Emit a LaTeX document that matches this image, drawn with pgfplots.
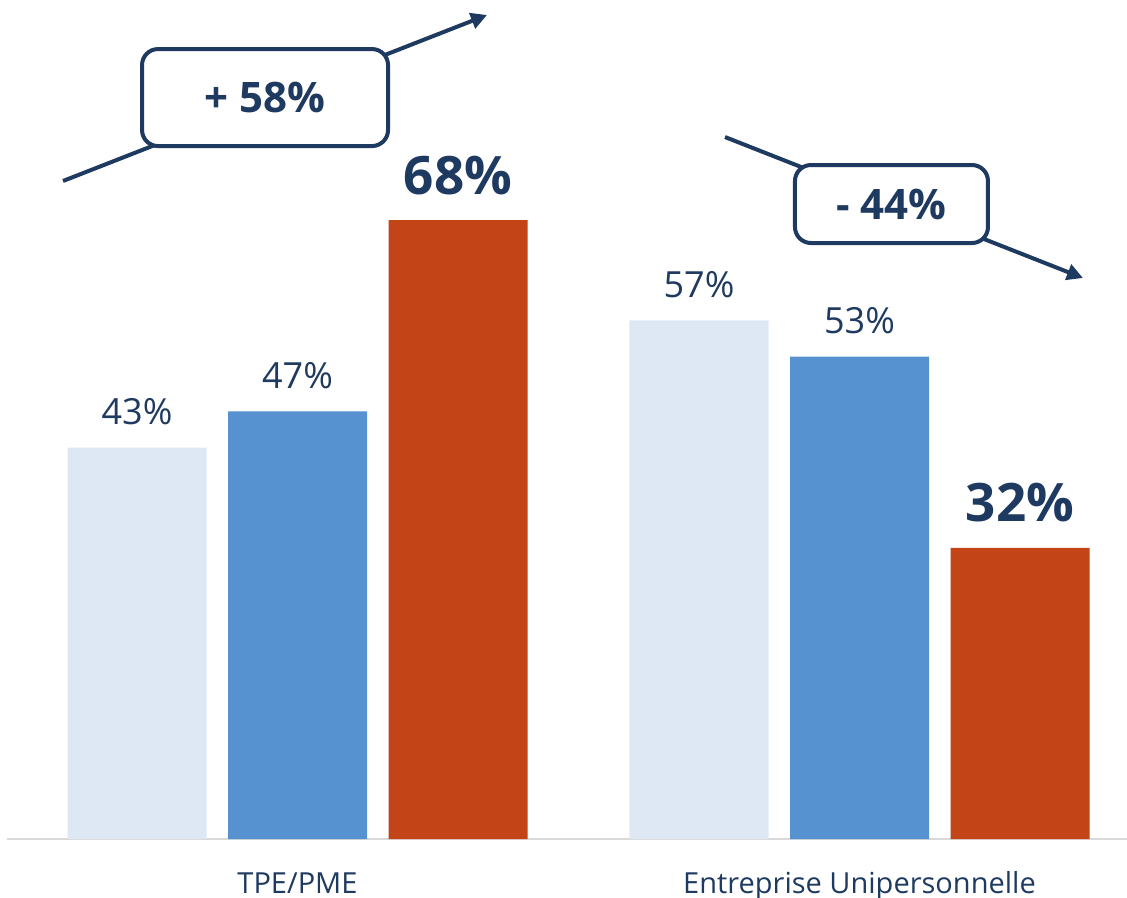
\documentclass[border=0pt]{standalone}
\usepackage{fontspec}
\setmainfont{Open Sans}
\usepackage{pgfplots}
\pgfplotsset{compat=1.18}
\usetikzlibrary{arrows.meta}
\definecolor{lightb}{HTML}{DDE8F4}
\definecolor{mblue}{HTML}{5692D0}
\definecolor{rred}{HTML}{C24417}
\definecolor{navy}{HTML}{1F3A60}
\begin{document}
\begin{tikzpicture}
\begin{axis}[
 scale only axis, width=1120pt, height=839pt,
 xmin=-0.517, xmax=1.476, ymin=0, ymax=92.2,
 ybar=21.5pt, bar width=139pt,
 axis x line=bottom, axis y line=none,
 x axis line style={draw=gray!30, line width=2pt, -},
 xtick={0,1}, xticklabels={TPE/PME, Entreprise Unipersonnelle},
 major tick length=0pt,
 /pgf/number format/assume math mode=true,
 xticklabel style={font=\fontsize{29}{34}\selectfont, text=navy, anchor=base, yshift=-54pt},
 clip=false,
 nodes near coords={\pgfmathprintnumber{\pgfplotspointmeta}\%},
 every node near coord/.append style={text=navy, anchor=base, yshift=23pt, font=\fontsize{36}{42}\selectfont},
]
\addplot[fill=lightb, draw=none] coordinates {(0,43) (1,57)};
\addplot[fill=mblue, draw=none] coordinates {(0,47) (1,53)};
\addplot[fill=rred, draw=none, every node near coord/.append style={font=\fontsize{53}{60}\selectfont\bfseries, yshift=3pt}] coordinates {(0,68) (1,32)};

\draw[navy, line width=4pt, -{Triangle[length=16pt,width=16pt]}] (axis cs:-0.4173,72.31) -- (axis cs:0.3372,90.55);
\node[draw=navy, line width=4pt, fill=white, rounded corners=16pt, minimum width=246pt, minimum height=97pt, text=navy, font=\fontsize{42}{48}\selectfont\bfseries] at (axis cs:-0.0578,81.48) {+ 58\%};
\draw[navy, line width=4pt, -{Triangle[length=16pt,width=16pt]}] (axis cs:0.7607,77.14) -- (axis cs:1.3977,61.65);
\node[draw=navy, line width=4pt, fill=white, rounded corners=16pt, minimum width=193pt, minimum height=78pt, text=navy, font=\fontsize{42}{48}\selectfont\bfseries] at (axis cs:1.0569,69.78) {- 44\%};
\coordinate (bl) at (axis cs:-0.5294,-6.48);
\coordinate (tr) at (axis cs:1.476,92.2);
\end{axis}
\pgfresetboundingbox
\useasboundingbox (bl) rectangle (tr);
\end{tikzpicture}
\end{document}
